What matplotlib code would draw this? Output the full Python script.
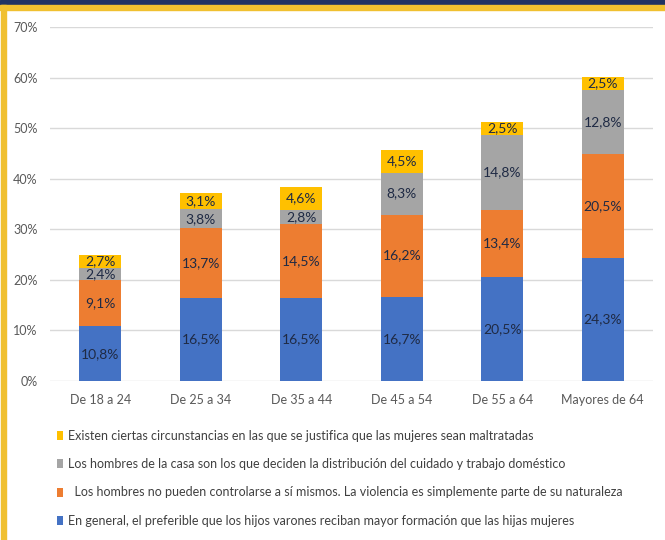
import matplotlib
matplotlib.use("Agg")
import matplotlib.pyplot as plt
from matplotlib.patches import Rectangle
import numpy as np

categories = ["De 18 a 24", "De 25 a 34", "De 35 a 44", "De 45 a 54", "De 55 a 64", "Mayores de 64"]
blue_vals = [10.8, 16.5, 16.5, 16.7, 20.5, 24.3]
orange_vals = [9.1, 13.7, 14.5, 16.2, 13.4, 20.5]
gray_vals = [2.4, 3.8, 2.8, 8.3, 14.8, 12.8]
gold_vals = [2.7, 3.1, 4.6, 4.5, 2.5, 2.5]
series_names = [
    "En general, el preferible que los hijos varones reciban mayor formación que las hijas mujeres",
    "  Los hombres no pueden controlarse a sí mismos. La violencia es simplemente parte de su naturaleza",
    "Los hombres de la casa son los que deciden la distribución del cuidado y trabajo doméstico",
    "Existen ciertas circunstancias en las que se justifica que las mujeres sean maltratadas",
]
yticks = [0, 10, 20, 30, 40, 50, 60, 70]

colors = ["#4472C4", "#ED7D31", "#A5A5A5", "#FFC000"]
plt.rcParams["font.family"] = ["Lato", "DejaVu Sans"]

fig = plt.figure(figsize=(6.65, 5.4), dpi=100)
ax = fig.add_axes([50/665, (540-381)/540, (653-50)/665, (381-27)/540])

x = np.arange(len(categories))
bottom = np.zeros(len(categories))
bars = []
for vals, col, nm in zip([blue_vals, orange_vals, gray_vals, gold_vals], colors, series_names):
    b = ax.bar(x, vals, 0.42, bottom=bottom, color=col, label=nm, zorder=3)
    for xi, v, bt in zip(x, vals, bottom):
        ax.text(xi, bt + v / 2, f"{v:.1f}%".replace(".", ","), ha="center", va="center",
                fontsize=10, color="#1f2a44", zorder=4)
    bottom = bottom + np.array(vals)
    bars.append(b)

ax.set_xlim(-0.5, len(categories) - 0.5)
ax.set_ylim(0, 70)
ax.set_yticks(yticks)
ax.set_yticklabels([f"{t}%" for t in yticks])
ax.set_xticks(x)
ax.set_xticklabels(categories)
ax.yaxis.grid(True, color="#D9D9D9", linewidth=1, zorder=0)
for s in ax.spines.values():
    s.set_visible(False)
ax.tick_params(axis="both", length=0, labelsize=9, colors="#595959")
ax.tick_params(axis="x", pad=9)
ax.tick_params(axis="y", pad=9)

handles = bars[::-1]
labels = series_names[::-1]
leg = fig.legend(handles, labels, loc="upper left", bbox_to_anchor=(52/665, 1 - 425/540),
                 frameon=False, fontsize=9, handlelength=0.5, handleheight=0.75,
                 handletextpad=0.4, labelspacing=1.3, borderaxespad=0, labelcolor="#404040")

fig.patches.append(Rectangle((0, 1 - 5/540), 1, 5/540, transform=fig.transFigure, color="#1F3263", zorder=10))
fig.patches.append(Rectangle((0, 1 - 10/540), 1, 5/540, transform=fig.transFigure, color="#F0C030", zorder=10))
fig.patches.append(Rectangle((1/665, 0), 5/665, 1 - 5/540, transform=fig.transFigure, color="#F0C030", zorder=10))

fig.savefig("out.png", dpi=100)
